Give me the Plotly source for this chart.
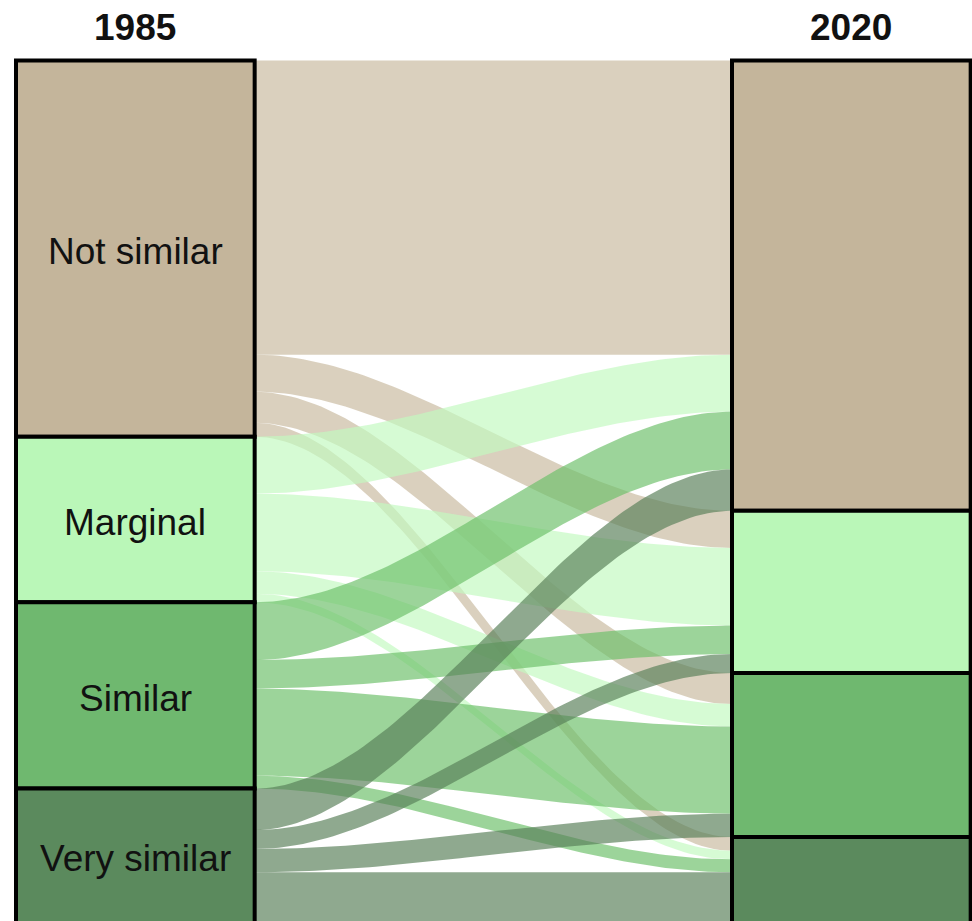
import numpy as np
import plotly.graph_objects as go

# ---------------- data ----------------
years = ["1985", "2020"]
classes = ["Not similar", "Marginal", "Similar", "Very similar"]

# share of area (%) moving from a 1985 class (list) to each 2020 class (entries)
from_not_similar = [34.1, 4.3, 3.6, 1.6]
from_marginal = [6.6, 9.0, 2.6, 1.0]
from_similar = [6.7, 3.3, 10.1, 1.5]
from_very_similar = [4.8, 2.2, 2.7, 5.9]

# ---------------- styles ----------------
node_colors = ["#C4B59B", "#BAF7B8", "#6FB86F", "#5B8A5D"]
flow_colors = ["rgba(200,185,158,0.67)", "rgba(194,249,191,0.67)",
               "rgba(107,191,104,0.67)", "rgba(88,127,88,0.67)"]
FONT = "Liberation Sans, Arial, sans-serif"

M = np.array([from_not_similar, from_marginal, from_similar, from_very_similar])
n = len(classes)
total = M.sum()
left_tot = M.sum(axis=1)
right_tot = M.sum(axis=0)
left_top = np.concatenate([[0], np.cumsum(left_tot)[:-1]])
right_top = np.concatenate([[0], np.cumsum(right_tot)[:-1]])

x_pos = [1, 2]
W = 1 / 3
xa, xb = x_pos[0] + W / 2, x_pos[1] - W / 2

fig = go.Figure()

t = np.linspace(0, 1, 80)
s = 3 * t ** 2 - 2 * t ** 3
xs = xa + (xb - xa) * t

for i in range(n):
    for j in range(n):
        v = M[i, j]
        if v <= 0:
            continue
        y0 = left_top[i] + M[i, :j].sum()
        y1 = right_top[j] + M[:i, j].sum()
        top = y0 + (y1 - y0) * s
        bot = top + v
        fig.add_trace(go.Scatter(
            x=np.concatenate([xs, xs[::-1]]),
            y=np.concatenate([top, bot[::-1]]),
            fill="toself", fillcolor=flow_colors[i],
            mode="lines", line=dict(width=0),
            hoverinfo="skip", showlegend=False))

# nodes
for k, (xp, tops, tots) in enumerate([(x_pos[0], left_top, left_tot), (x_pos[1], right_top, right_tot)]):
    for c in range(n):
        fig.add_shape(type="rect", xref="x", yref="y",
                      x0=xp - W / 2, x1=xp + W / 2,
                      y0=tops[c], y1=tops[c] + tots[c],
                      fillcolor=node_colors[c], line=dict(color="black", width=4),
                      layer="above")
    fig.add_annotation(x=xp, xref="x", y=1 - 27 / 921, yref="paper",
                       text="<b>" + years[k] + "</b>", showarrow=False,
                       font=dict(family=FONT, size=37, color="#111111"),
                       yanchor="middle")

# labels (left stratum only, as in the original)
for c in range(n):
    fig.add_annotation(x=x_pos[0], y=left_top[c] + left_tot[c] / 2,
                       text=classes[c], showarrow=False,
                       font=dict(family=FONT, size=37, color="#111111"),
                       yanchor="middle", yshift=-3)

H = 921
top_px = 60.5
ppu = (H - top_px + 2.2) / total
px_w = 716.0
x0_range = x_pos[0] - W / 2 - 16 / px_w
x1_range = x0_range + 972 / px_w

fig.update_layout(
    width=972, height=921,
    margin=dict(l=0, r=0, t=0, b=0),
    paper_bgcolor="white", plot_bgcolor="white",
    xaxis=dict(range=[x0_range, x1_range], visible=False, fixedrange=True),
    yaxis=dict(range=[total - 2.2 / ppu, -top_px / ppu], visible=False, fixedrange=True),
    showlegend=False,
)

fig.write_html("out.html", config={"displayModeBar": False},
               post_script="document.body.style.margin='0';document.body.style.overflow='hidden';")
